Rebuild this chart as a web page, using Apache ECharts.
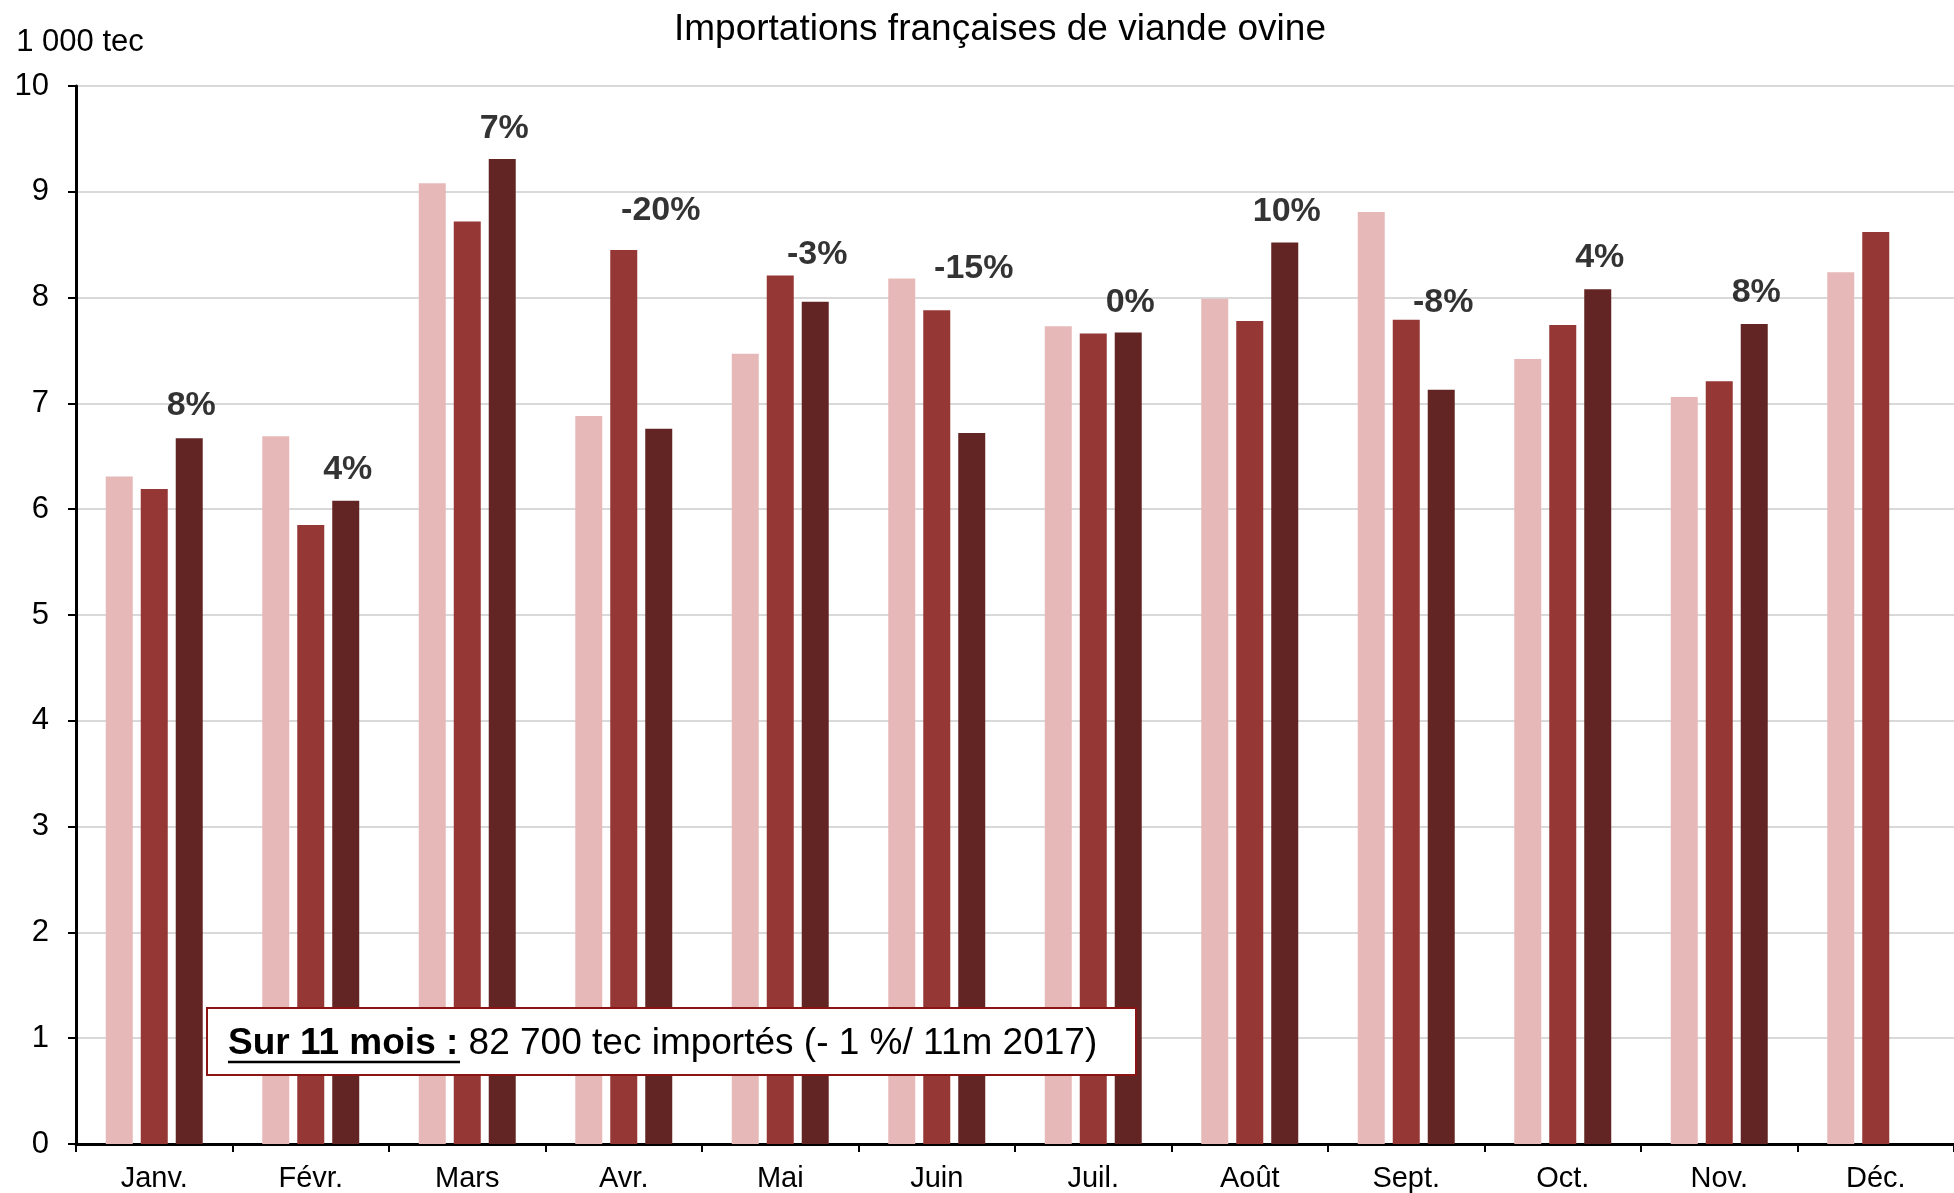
<!DOCTYPE html>
<html>
<head>
<meta charset="utf-8">
<script src="https://cdn.jsdelivr.net/npm/echarts@6/dist/echarts.min.js"></script>
<style>
html,body{margin:0;padding:0;background:#fff;}
#chart{width:1954px;height:1193px;}
</style>
</head>
<body>
<div id="chart"></div>
<script>
const categories = ['Janv.', 'Févr.', 'Mars', 'Avr.', 'Mai', 'Juin', 'Juil.', 'Août', 'Sept.', 'Oct.', 'Nov.', 'Déc.'];
const seriesA = [6.31, 6.69, 9.08, 6.88, 7.47, 8.18, 7.73, 7.99, 8.81, 7.42, 7.06, 8.24];
const seriesB = [6.19, 5.85, 8.72, 8.45, 8.21, 7.88, 7.66, 7.78, 7.79, 7.74, 7.21, 8.62];
const seriesC = [6.67, 6.08, 9.31, 6.76, 7.96, 6.72, 7.67, 8.52, 7.13, 8.08, 7.75, null];
const pctLabels = ['8%', '4%', '7%', '-20%', '-3%', '-15%', '0%', '10%', '-8%', '4%', '8%', null];
const pctLabelHeights = [6.98, 6.37, 9.60, 8.82, 8.41, 8.27, 7.95, 8.81, 7.95, 8.38, 8.05, null];
const yTicks = [0, 1, 2, 3, 4, 5, 6, 7, 8, 9, 10];

const FONT = 'Liberation Sans, Arial, sans-serif';
const chart = echarts.init(document.getElementById('chart'));

const option = {
  animation: false,
  backgroundColor: '#ffffff',
  title: {
    text: 'Importations françaises de viande ovine',
    left: 669,
    top: 6,
    textStyle: { fontFamily: FONT, fontSize: 37, fontWeight: 'normal', color: '#000' }
  },
  grid: { left: 76, right: 0, top: 86, bottom: 48, containLabel: false },
  xAxis: {
    type: 'category',
    data: categories,
    axisLine: { show: true, lineStyle: { color: '#000', width: 3 } },
    axisTick: { show: true, length: 8, lineStyle: { color: '#000', width: 2 } },
    axisLabel: { fontFamily: FONT, fontSize: 29, color: '#000', margin: 20 }
  },
  yAxis: {
    type: 'value',
    min: yTicks[0],
    max: yTicks[yTicks.length - 1],
    interval: 1,
    name: '1 000 tec',
    nameLocation: 'end',
    nameGap: 28,
    nameTextStyle: { fontFamily: FONT, fontSize: 31, color: '#000', align: 'center', padding: [0, 0, 0, 8] },
    axisLine: { show: true, lineStyle: { color: '#000', width: 3 } },
    axisTick: { show: true, length: 8, lineStyle: { color: '#000', width: 2 } },
    axisLabel: { fontFamily: FONT, fontSize: 31, color: '#000', margin: 27 },
    splitLine: { show: true, lineStyle: { color: '#D9D9D9', width: 2 } }
  },
  series: [
    {
      name: '2016', type: 'bar', data: seriesA, barWidth: 27, barGap: '29.6%',
      itemStyle: { color: '#E6B9B8' }
    },
    {
      name: '2017', type: 'bar', data: seriesB, barWidth: 27, barGap: '29.6%',
      itemStyle: { color: '#953735' }
    },
    {
      name: '2018', type: 'bar', data: seriesC, barWidth: 27, barGap: '29.6%',
      itemStyle: { color: '#632523' }
    },
    {
      name: 'labels', type: 'scatter', data: pctLabelHeights,
      symbolSize: 1, itemStyle: { color: 'rgba(0,0,0,0)' },
      silent: true,
      label: {
        show: true, position: 'inside', offset: [37, 0],
        fontFamily: FONT, fontSize: 34, fontWeight: 'bold', color: '#000',
        formatter: p => pctLabels[p.dataIndex] || ''
      }
    }
  ],
  graphic: [
    {
      type: 'rect', left: 206, top: 1007, z: 100,
      shape: { width: 929, height: 67 },
      style: { fill: '#fff', stroke: '#8B1414', lineWidth: 2 }
    },
    {
      type: 'text', left: 228, top: 1025, z: 101,
      style: {
        text: '{b|Sur 11 mois :}{n| 82 700 tec importés (- 1 %/ 11m 2017)}',
        rich: {
          b: { fontFamily: FONT, fontSize: 37, fontWeight: 'bold', fill: '#000', color: '#000' },
          n: { fontFamily: FONT, fontSize: 37, fill: '#000', color: '#000' }
        }
      }
    },
    {
      type: 'line', z: 102,
      shape: { x1: 228, y1: 1062, x2: 460, y2: 1062 },
      style: { stroke: '#000', lineWidth: 2.5 }
    }
  ]
};
chart.setOption(option);
</script>
</body>
</html>
